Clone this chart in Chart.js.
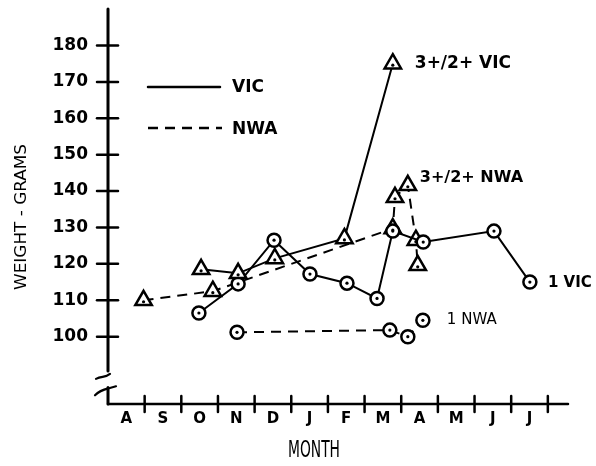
<!DOCTYPE html>
<html>
<head>
<meta charset="utf-8">
<script src="https://cdn.jsdelivr.net/npm/chart.js@4.4.1/dist/chart.umd.min.js"></script>
<style>
  html, body { margin: 0; padding: 0; background: #fff; }
  #wrap { width: 596px; height: 466px; position: relative; }
</style>
</head>
<body>
<div id="wrap"><canvas id="chart"></canvas></div>
<script>
const months = ['A', 'S', 'O', 'N', 'D', 'J', 'F', 'M', 'A', 'M', 'J', 'J'];
const weightTicks = [100, 110, 120, 130, 140, 150, 160, 170, 180];

// month position: 0 = start of August, 1 = start of September ...
const vicAdultMonth = [2.54, 3.55, 4.55, 6.45, 7.77];
const vicAdultWeight = [118.5, 117.4, 121.5, 127, 175];

const vicYearlingMonth = [2.48, 3.55, 4.53, 5.51, 6.52, 7.34, 7.77, 8.6, 10.53, 11.51];
const vicYearlingWeight = [106.5, 114.5, 126.5, 117.2, 114.7, 110.5, 129, 126, 129, 115];

const nwaAdultMonth = [0.97, 2.86, 7.77, 7.83, 8.18, 8.4, 8.45];
const nwaAdultWeight = [110, 112.5, 129.7, 138.3, 141.6, 126.5, 119.6];

const nwaYearlingMonth = [3.52, 7.69, 8.18, 8.59];
const nwaYearlingWeight = [101.2, 101.8, 100, 104.5];

const seriesNames = ['3+/2+ VIC', '1 VIC', '3+/2+ NWA', '1 NWA'];

const toPoints = (xs, ys) => xs.map((v, i) => ({ x: v, y: ys[i] }));
const DASH = [10, 7];

function makeSet(label, xs, ys, style, dashed) {
    return {
        label: label,
        data: toPoints(xs, ys),
        showLine: true,
        borderColor: '#000',
        borderWidth: 2,
        borderDash: dashed ? DASH : [],
        pointStyle: style,
        pointRadius: style === 'triangle' ? 9.5 : 6.5,
        pointBorderWidth: 2.5,
        pointBackgroundColor: '#fff',
        pointBorderColor: '#000'
    };
}

// where each series name sits relative to one of its points
const nameSpots = [
    { index: 4, dx: 22, dy: 0, font: 'bold 17px "DejaVu Sans"' },
    { index: -1, dx: 18, dy: 1, font: 'bold 15px "DejaVu Sans"' },
    { index: 4, dx: 12, dy: -7, font: 'bold 16px "DejaVu Sans"' },
    { index: -1, dx: 24, dy: 0, font: '15px "DejaVu Sans"' }
];

function fitText(ctx, text, cx, cy, angle, font, width, capHeight, size) {
    ctx.save();
    ctx.font = font;
    const w = ctx.measureText(text).width;
    ctx.translate(cx, cy);
    ctx.rotate(angle);
    ctx.scale(width / w, capHeight / (0.73 * size));
    ctx.textAlign = 'center';
    ctx.textBaseline = 'middle';
    ctx.fillStyle = '#000';
    ctx.fillText(text, 0, 0);
    ctx.restore();
}

const decorations = {
    id: 'decorations',
    afterDatasetsDraw(chart) {
        const ctx = chart.ctx;
        const { x, y } = chart.scales;
        const area = chart.chartArea;
        ctx.save();
        ctx.fillStyle = '#000';
        // centre dots inside every marker
        chart.data.datasets.forEach((ds, i) => {
            chart.getDatasetMeta(i).data.forEach(pt => {
                ctx.beginPath();
                ctx.arc(pt.x, pt.y + (ds.pointStyle === 'triangle' ? 1.5 : 0), 1.6, 0, Math.PI * 2);
                ctx.fill();
            });
        });

        ctx.strokeStyle = '#000';
        ctx.lineCap = 'round';

        // y axis with a break
        const x0 = area.left;
        ctx.lineWidth = 3;
        ctx.beginPath();
        ctx.moveTo(x0, area.top - 3);
        ctx.lineTo(x0, y.getPixelForValue(90.6));
        ctx.moveTo(x0, y.getPixelForValue(86.0));
        ctx.lineTo(x0, area.bottom);
        ctx.stroke();

        ctx.lineWidth = 2.2;
        const b1 = y.getPixelForValue(89.5);
        const b2 = y.getPixelForValue(85.0);
        ctx.beginPath();
        ctx.moveTo(x0 - 12, b1 + 4);
        ctx.bezierCurveTo(x0 - 6, b1 + 1, x0 - 3, b1 + 3, x0 + 2, b1 - 1);
        ctx.moveTo(x0 - 13, b2 + 4);
        ctx.bezierCurveTo(x0 - 8, b2 - 1, x0 - 3, b2 - 2, x0 + 1, b2 - 3);
        ctx.lineTo(x0 + 8, b2 - 5);
        ctx.stroke();

        // y ticks crossing the axis
        ctx.lineWidth = 2.5;
        weightTicks.forEach(v => {
            const py = y.getPixelForValue(v);
            ctx.beginPath();
            ctx.moveTo(x0 - 11, py);
            ctx.lineTo(x0 + 10, py);
            ctx.stroke();
        });

        // x axis and month boundaries
        const y0 = area.bottom;
        ctx.lineWidth = 2.5;
        ctx.beginPath();
        ctx.moveTo(x0, y0);
        ctx.lineTo(area.right, y0);
        ctx.stroke();
        for (let i = 1; i <= months.length; i++) {
            const px = x.getPixelForValue(i);
            ctx.beginPath();
            ctx.moveTo(px, y0 - 8);
            ctx.lineTo(px, y0 + 8);
            ctx.stroke();
        }

        // legend
        ctx.lineWidth = 2.5;
        ctx.beginPath();
        ctx.moveTo(148, 87);
        ctx.lineTo(220, 87);
        ctx.stroke();
        ctx.setLineDash(DASH);
        ctx.lineCap = 'butt';
        ctx.beginPath();
        ctx.moveTo(148, 128);
        ctx.lineTo(222, 128);
        ctx.stroke();
        ctx.setLineDash([]);
        ctx.font = 'bold 17px "DejaVu Sans"';
        ctx.textAlign = 'left';
        ctx.textBaseline = 'middle';
        ctx.fillText('VIC', 232, 88);
        ctx.fillText('NWA', 232, 130);

        // series names beside their points
        seriesNames.forEach((name, i) => {
            const pts = chart.getDatasetMeta(i).data;
            const spot = nameSpots[i];
            const pt = spot.index < 0 ? pts[pts.length - 1] : pts[spot.index];
            ctx.font = spot.font;
            ctx.fillText(name, pt.x + spot.dx, pt.y + spot.dy);
        });

        // axis titles, tall narrow lettering
        fitText(ctx, 'WEIGHT - GRAMS', 22, 217, -Math.PI / 2, '14px "DejaVu Sans Condensed", "DejaVu Sans"', 146, 12, 14);
        fitText(ctx, 'MONTH', 314, 451, 0, '14px "DejaVu Sans Condensed", "DejaVu Sans"', 52, 17, 14);
        ctx.restore();
    }
};

Chart.defaults.font.family = '"DejaVu Sans"';
Chart.defaults.color = '#000';

new Chart(document.getElementById('chart'), {
    type: 'scatter',
    data: {
        datasets: [
            makeSet(seriesNames[0], vicAdultMonth, vicAdultWeight, 'triangle', false),
            makeSet(seriesNames[1], vicYearlingMonth, vicYearlingWeight, 'circle', false),
            makeSet(seriesNames[2], nwaAdultMonth, nwaAdultWeight, 'triangle', true),
            makeSet(seriesNames[3], nwaYearlingMonth, nwaYearlingWeight, 'circle', true)
        ]
    },
    options: {
        responsive: true,
        maintainAspectRatio: false,
        animation: false,
        layout: { padding: { top: 8, right: 28, left: 0, bottom: 0 } },
        plugins: {
            legend: { display: false },
            tooltip: { enabled: false }
        },
        scales: {
            x: {
                type: 'linear',
                min: 0,
                max: 12.55,
                grid: { display: false, drawTicks: false },
                border: { display: false },
                afterBuildTicks: scale => {
                    scale.ticks = months.map((m, i) => ({ value: i + 0.5 }));
                },
                afterFit: scale => { scale.height = 62; },
                ticks: {
                    autoSkip: false,
                    maxRotation: 0,
                    padding: 6,
                    font: { size: 15, weight: 'bold' },
                    callback: (value, index) => months[index]
                }
            },
            y: {
                min: 81.5,
                max: 189.2,
                grid: { display: false, drawTicks: true, tickLength: 20 },
                border: { display: false },
                afterBuildTicks: scale => {
                    scale.ticks = weightTicks.map(v => ({ value: v }));
                },
                afterFit: scale => { scale.width = 108; },
                ticks: {
                    padding: 0,
                    font: { size: 17, weight: 'bold', lineHeight: 0.6 }
                }
            }
        }
    },
    plugins: [decorations]
});
</script>
</body>
</html>
